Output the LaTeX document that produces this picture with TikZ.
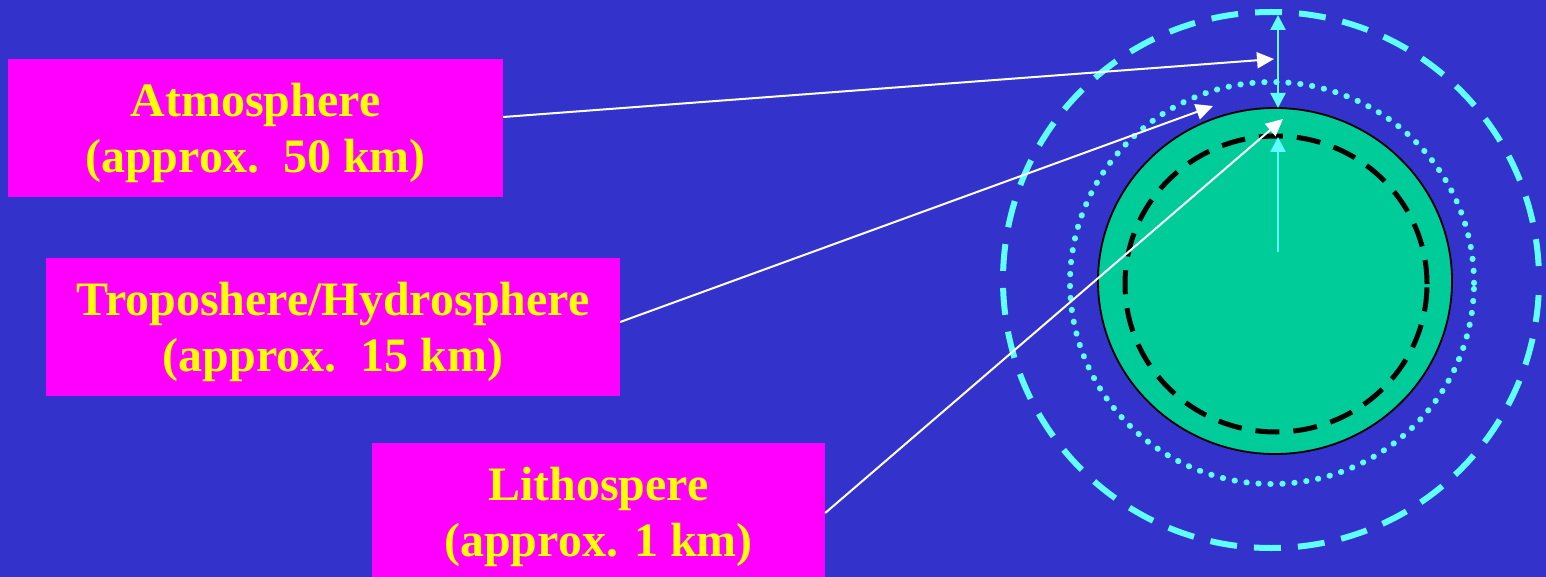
\documentclass[tikz,border=0pt]{standalone}
\usepackage{fontspec}
\setmainfont{Liberation Serif}
\usetikzlibrary{arrows.meta,calc}
\definecolor{bgblue}{RGB}{51,51,204}
\definecolor{boxmag}{RGB}{255,0,255}
\definecolor{txtyel}{RGB}{255,255,0}
\definecolor{earth}{RGB}{0,204,153}
\definecolor{skycyan}{RGB}{95,255,255}
\tikzset{
  box/.style={rectangle, fill=boxmag, draw=none, inner sep=0pt},
  lbl/.style={text=txtyel, align=center, inner sep=0pt,
    font=\fontsize{48}{56}\selectfont\bfseries},
  warrow/.style={draw=white, line width=2pt, -{Triangle[length=17pt,width=16pt]}},
  carrow/.style={draw=skycyan, line width=2.5pt, {Triangle[length=15pt,width=15pt]}-{Triangle[length=15pt,width=15pt]}},
  carrowone/.style={draw=skycyan, line width=2.5pt, -{Triangle[length=15pt,width=15pt]}},
}
\begin{document}
\begin{tikzpicture}[x=1pt,y=-1pt]
\useasboundingbox (0,0) rectangle (1546,577);
\clip (0,0) rectangle (1546,577);
\fill[bgblue] (0,0) rectangle (1546,577);

% layers
\draw[skycyan, line width=6pt, dash pattern=on 27pt off 17pt, dash phase=-14pt] (1271,280) ellipse [x radius=268pt, y radius=268pt];
\draw[skycyan, line width=6pt, line cap=round, dash pattern=on 0.3pt off 11.7pt] (1272,283) ellipse [x radius=202pt, y radius=201pt];
\fill[earth, draw=black, line width=1.8pt] (1275,281) ellipse [x radius=177pt, y radius=173pt];
\draw[black, line width=5pt, dash pattern=on 24pt off 14pt] (1276,284) ellipse [x radius=151pt, y radius=148pt];

% coordinates
\coordinate (outertop) at (1278,15);
\coordinate (earthtop) at (1278,108);
\coordinate (coretop) at (1278,137);
\coordinate (corestart) at (1278,252);
\coordinate (atmtip) at (1274,59);
\coordinate (troptip) at (1213,106);
\coordinate (lithtip) at (1283,119);

% boxes
\node[box, minimum width=495pt, minimum height=138pt] (atm) at (255.5,128) {};
\node[lbl] (atmtext) at (255.5,133) {Atmosphere\\(approx.\ \ 50 km)};
\node[box, minimum width=574pt, minimum height=138pt] (trop) at (333,327) {};
\node[lbl] (troptext) at (333,332) {Troposhere/Hydrosphere\\(approx.\ \ 15 km)};
\node[box, minimum width=453pt, minimum height=150pt] (lith) at (598.5,518) {};
\node[lbl] (lithtext) at (598.5,517) {Lithospere\\(approx. 1 km)};

% connectors
\draw[carrow] (outertop) -- (earthtop);
\draw[carrowone] (corestart) -- (coretop);
\draw[warrow] ($(atm.east)+(0,-11)$) -- (atmtip);
\draw[warrow] ($(trop.east)+(0,-5)$) -- (troptip);
\draw[warrow] ($(lith.east)+(0,-5)$) -- (lithtip);
\end{tikzpicture}
\end{document}
